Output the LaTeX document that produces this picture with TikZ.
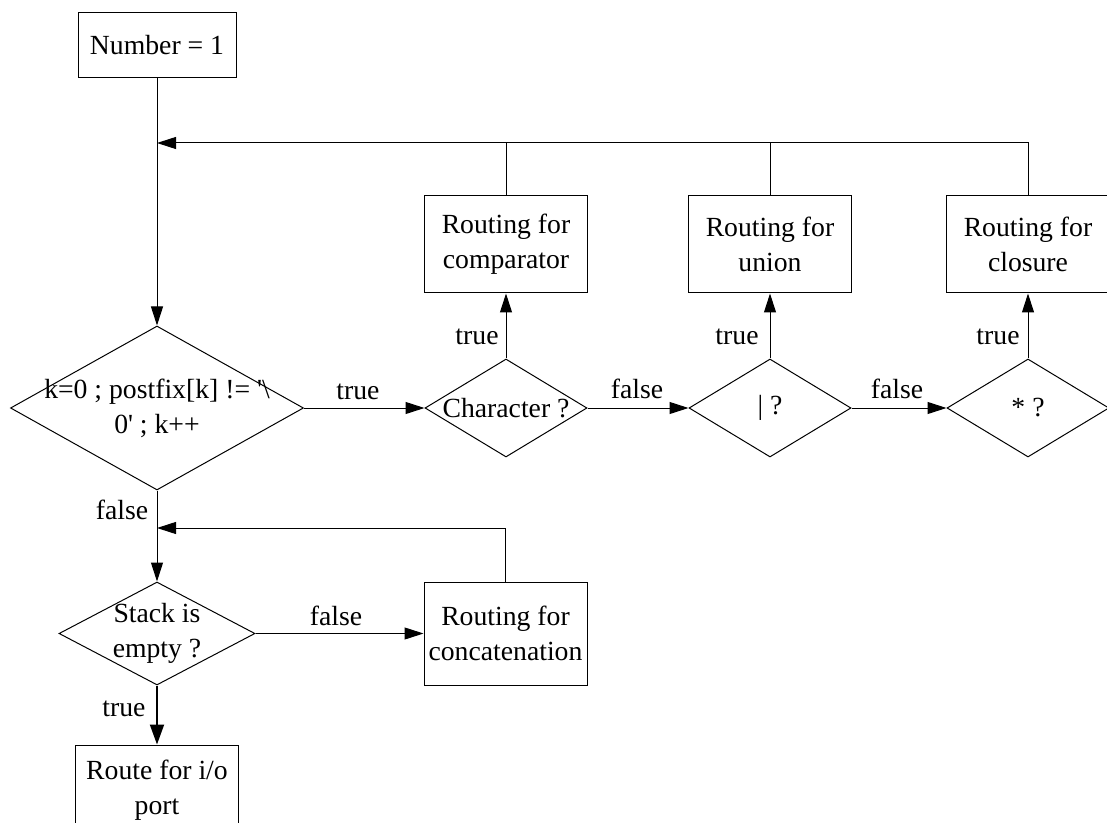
\documentclass[tikz,border=0pt]{standalone}
\usepackage{fontspec}
\setmainfont{Liberation Serif}[Ligatures=TeXOff]
\usetikzlibrary{shapes.geometric,arrows.meta}
\newcommand\zb[1]{\makebox[0pt]{#1}}
\begin{document}
\begin{tikzpicture}[x=0.5pt,y=-0.5pt,
  font=\fontsize{13.85pt}{17.5pt}\selectfont,
  line width=0.5pt,
  box/.style={draw, rectangle, minimum width=81.5pt, minimum height=48.5pt, inner sep=0pt, align=center},
  dia/.style={draw, diamond, aspect=1.65, minimum width=81pt, minimum height=49pt, inner sep=0pt, align=center},
  arr/.style={-{Triangle[length=9.5pt,width=6pt]}},
  lbl/.style={inner sep=0pt}]
\useasboundingbox (0,0) rectangle (1107,823);
% nodes
\node[box, minimum width=79pt, minimum height=32.5pt] (n1) at (157,45.5) {Number = 1};
\node[dia, minimum width=146.5pt, minimum height=82pt] (d1) at (157,408) {\zb{k=0 ; postfix[k] != '\textbackslash}\\\zb{0' ; k++}};
\node[dia] (dc) at (506,408) {\zb{Character ?}};
\node[dia] (du) at (770,408) {\zb{| ?}};
\node[dia] (ds) at (1028,408) {\zb{* ?}};
\node[box] (bc) at (506,244.5) {Routing for\\comparator};
\node[box] (bu) at (770,244.5) {Routing for\\union};
\node[box] (bs) at (1028,244.5) {Routing for\\closure};
\node[dia, minimum width=98pt, minimum height=51.5pt] (st) at (157,633.5) {\zb{Stack is}\\\zb{empty ?}};
\node[box, minimum height=51.5pt] (bk) at (505.5,633.5) {Routing for\\concatenation};
\node[box, minimum height=45pt] (br) at (157,790) {Route for i/o\\port};
\coordinate (j1) at (157,143);
\coordinate (j2) at (157,528);
% labels
\node[lbl] (t0) at (358,392) {true};
\node[lbl] (f1) at (637,389) {false};
\node[lbl] (f2) at (897,389) {false};
\node[lbl] (t1) at (477,337) {true};
\node[lbl] (t2) at (737,337) {true};
\node[lbl] (t3) at (998,337) {true};
\node[lbl] (f0) at (122,510) {false};
\node[lbl] (f3) at (336,616) {false};
\node[lbl] (t4) at (124,709) {true};
% connectors
\draw[arr] (n1.south) -- (d1.north);
\draw[arr] (bs.north) |- (j1);
\draw (bc.north) -- (bc.north |- j1);
\draw (bu.north) -- (bu.north |- j1);
\draw[arr] (d1.east) -- (dc.west);
\draw[arr] (dc.east) -- (du.west);
\draw[arr] (du.east) -- (ds.west);
\draw[arr] (dc.north) -- (bc.south);
\draw[arr] (du.north) -- (bu.south);
\draw[arr] (ds.north) -- (bs.south);
\draw[arr] (d1.south) -- (st.north);
\draw[arr] (bk.north) |- (j2);
\draw[arr] (st.east) -- (bk.west);
\draw[line width=1pt, -{Triangle[length=10pt,width=7pt]}] (st.south) -- (br.north);
\end{tikzpicture}
\end{document}
